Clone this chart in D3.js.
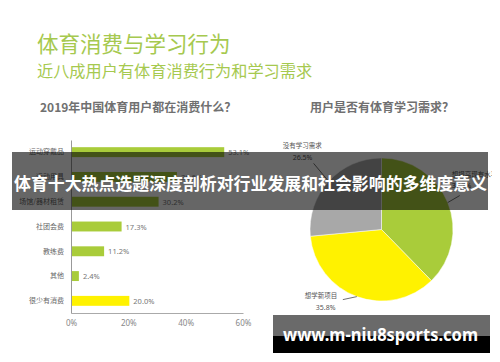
<!DOCTYPE html>
<html>
<head>
<meta charset="utf-8">
<script src="https://cdn.jsdelivr.net/npm/d3@7"></script>
<style>
  body { margin: 0; background: #fff; }
  svg { display: block; font-family: "Noto Sans CJK SC", "Noto Sans", sans-serif; }
</style>
</head>
<body>
<div id="chart"></div>
<script>
// Bar chart data
const spendCategories = ["运动穿戴品", "运动用具", "场馆/器材租赁", "社团会费", "教练费", "其他", "很少有消费"];
const spendValues = [53.1, 36.6, 30.2, 17.3, 11.2, 2.4, 20.0];
const xTicks = [0, 20, 40, 60];

// Pie chart data
const needLabels = ["想提高现有水平", "想学新项目", "没有学习需求"];
const needValues = [37.7, 35.8, 26.5];

const width = 500, height = 362;
const green = "#a9cc3a", yellow = "#fff200", gray = "#a8a8a8";

const svg = d3.select("#chart").append("svg")
    .attr("width", width)
    .attr("height", height);

svg.append("defs").append("clipPath").attr("id", "frame")
    .append("rect").attr("x", 0).attr("y", 0).attr("width", 492).attr("height", height);

const content = svg.append("g").attr("clip-path", "url(#frame)");

// Titles
content.append("text")
    .attr("x", 37).attr("y", 52)
    .attr("fill", "#a6c94f")
    .style("font-size", "21.5px")
    .text("体育消费与学习行为");
content.append("text")
    .attr("x", 37).attr("y", 77)
    .attr("fill", "#a6c94f")
    .style("font-size", "16.2px")
    .text("近八成用户有体育消费行为和学习需求");
content.append("text")
    .attr("x", 40).attr("y", 112)
    .attr("fill", "#707070")
    .style("font-size", "12px").style("font-weight", "bold")
    .text("2019年中国体育用户都在消费什么？");
content.append("text")
    .attr("x", 310).attr("y", 112)
    .attr("fill", "#707070")
    .style("font-size", "12px").style("font-weight", "bold")
    .text("用户是否有体育学习需求？");

// Bar chart
const x = d3.scaleLinear().domain([0, 60]).range([71, 243]);
const y = d3.scaleBand().domain(spendCategories).range([140, 313])
    .paddingInner(0.6).paddingOuter(0.29);

const xAxis = content.append("g")
    .attr("transform", "translate(0,313)")
    .call(d3.axisBottom(x).tickValues(xTicks).tickSize(0).tickPadding(7).tickFormat(d => d + "%"));
xAxis.select(".domain").attr("stroke", "#aaa");
xAxis.selectAll("text").attr("fill", "#888").style("font-size", "8px")
    .style("font-family", "Noto Sans, sans-serif");

const yAxis = content.append("g")
    .attr("transform", "translate(71,0)")
    .call(d3.axisLeft(y).tickSize(0).tickPadding(7));
yAxis.select(".domain").attr("stroke", "#999");
yAxis.selectAll("text").attr("fill", "#666").style("font-size", "7px")
    .style("font-family", "Noto Sans CJK SC, sans-serif");

content.selectAll(".bar")
    .data(spendValues)
    .enter()
    .append("rect")
        .attr("class", "bar")
        .attr("x", x(0) + 1)
        .attr("y", (d, i) => y(spendCategories[i]))
        .attr("width", d => x(d) - x(0))
        .attr("height", y.bandwidth())
        .attr("fill", (d, i) => i === spendValues.length - 1 ? yellow : green);

content.selectAll(".bar-label")
    .data(spendValues)
    .enter()
    .append("text")
        .attr("class", "bar-label")
        .attr("x", d => x(d) + 5)
        .attr("y", (d, i) => y(spendCategories[i]) + y.bandwidth() / 2 + 3)
        .attr("fill", "#777")
        .style("font-size", "7.5px")
        .style("font-family", "Noto Sans, sans-serif")
        .text(d => d.toFixed(1) + "%");

// Pie chart
const cx = 381.5, cy = 229.5, r = 71.5;
const pie = d3.pie().sort(null).value(d => d)(needValues);
const arc = d3.arc().innerRadius(0).outerRadius(r);
const pieColors = [green, yellow, gray];

const pieG = content.append("g").attr("transform", `translate(${cx},${cy})`);
pieG.selectAll("path")
    .data(pie)
    .enter()
    .append("path")
        .attr("d", arc)
        .attr("fill", (d, i) => pieColors[i])
        .attr("stroke", "#fff")
        .attr("stroke-width", 0.5);

// Leader lines and labels: offsets relative to the slice's point on the pie edge
const leaderOffsets = [[12, -7], [-14, 3], [-15, -18]];
const nameOffsets = [[4, -26], [-52, 1], [-46, -33]];
const valueOffsets = [[4, -15], [-41, 13], [-36, -21]];
pie.forEach((d, i) => {
    const a = (d.startAngle + d.endAngle) / 2;
    const ex = Math.sin(a) * r, ey = -Math.cos(a) * r;
    const [lx, ly] = leaderOffsets[i];
    pieG.append("line")
        .attr("x1", ex).attr("y1", ey)
        .attr("x2", ex + lx).attr("y2", ey + ly)
        .attr("stroke", "#333").attr("stroke-width", 0.7);
    pieG.append("text")
        .attr("x", ex + nameOffsets[i][0]).attr("y", ey + nameOffsets[i][1])
        .attr("fill", "#555")
        .style("font-size", "6.5px")
        .text(needLabels[i]);
    // the green slice's value sits under the headline band in the reference
    pieG.append("text")
        .attr("x", ex + valueOffsets[i][0]).attr("y", ey + valueOffsets[i][1])
        .attr("fill", i === 0 ? "#333" : "#555")
        .style("font-size", "7px")
        .style("font-family", "Noto Sans, sans-serif")
        .text(d.value.toFixed(1) + "%");
});

// Headline overlay band
svg.append("rect")
    .attr("x", 12).attr("y", 152).attr("width", 476).attr("height", 58)
    .attr("fill", "rgba(0,0,0,0.6)");
svg.append("text")
    .attr("x", 14).attr("y", 190)
    .attr("fill", "#fff")
    .attr("textLength", 473).attr("lengthAdjust", "spacingAndGlyphs")
    .style("font-size", "17px").style("font-weight", "bold")
    .text("体育十大热点选题深度剖析对行业发展和社会影响的多维度意义");

// Watermark box
svg.append("rect")
    .attr("x", 273).attr("y", 315).attr("width", 217).attr("height", 38)
    .attr("fill", "#000");
svg.append("rect")
    .attr("x", 273).attr("y", 315).attr("width", 217).attr("height", 21)
    .attr("fill", "#6a6a6a");
svg.append("text")
    .attr("x", 283).attr("y", 341)
    .attr("fill", "#fff")
    .attr("textLength", 195).attr("lengthAdjust", "spacingAndGlyphs")
    .style("font-family", "Noto Sans, sans-serif")
    .style("font-size", "18px").style("font-weight", "bold")
    .text("www.m-niu8sports.com");
</script>
</body>
</html>
